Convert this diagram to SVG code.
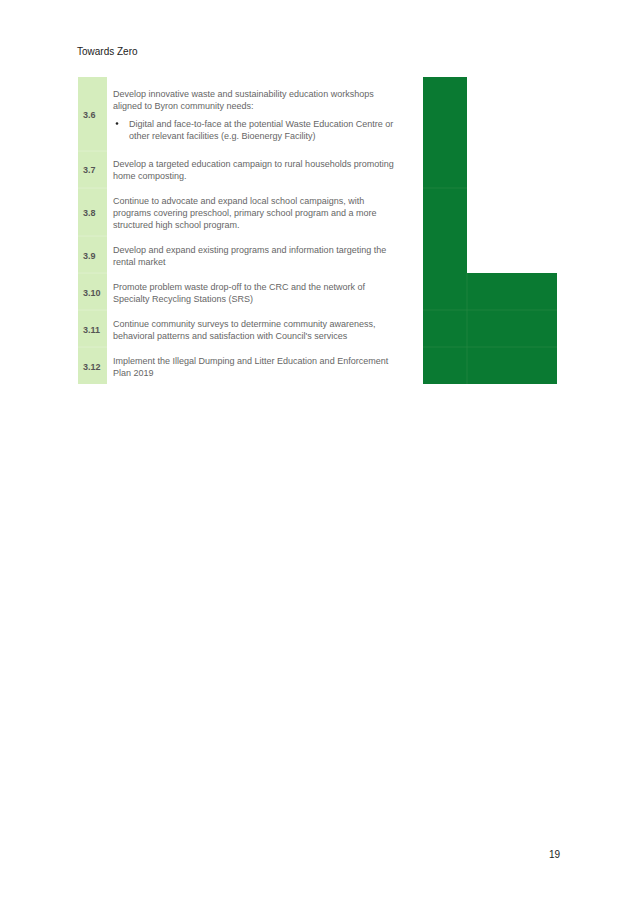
<svg xmlns="http://www.w3.org/2000/svg" width="638" height="900" viewBox="0 0 638 900">
<style>
text{font-family:"Liberation Sans",Arial,sans-serif;font-size:9px;fill:#666}
.n{font-weight:bold;fill:#555}
.h{fill:#222;font-size:10px}
.d{fill:#0a7a32}
.s{stroke:#2a8a45;stroke-width:0.6}
</style>
<rect width="638" height="900" fill="#fff"/>
<text class="h" x="77" y="55">Towards Zero</text>
<text class="h" x="549" y="858">19</text>
<rect x="78" y="77" width="29" height="307" fill="#d5edbd"/>
<g stroke="#e6f4d8" stroke-width="0.6"><line x1="78" y1="151" x2="107" y2="151"/><line x1="78" y1="188" x2="107" y2="188"/><line x1="78" y1="236" x2="107" y2="236"/><line x1="78" y1="273" x2="107" y2="273"/><line x1="78" y1="310" x2="107" y2="310"/><line x1="78" y1="347" x2="107" y2="347"/></g>
<rect class="d" x="423" y="77" width="44" height="307"/>
<rect class="d" x="467" y="273" width="90" height="111"/>
<g class="s"><line x1="423" y1="188" x2="467" y2="188"/><line x1="467" y1="273" x2="467" y2="384"/><line x1="423" y1="310" x2="557" y2="310"/><line x1="423" y1="347" x2="557" y2="347"/></g>
<g id="r36"><text class="n" x="83" y="118">3.6</text><text x="113" y="97">Develop innovative waste and sustainability education workshops</text><text x="113" y="109">aligned to Byron community needs:</text><circle cx="117" cy="123.5" r="1.3" fill="#222"/><text x="129" y="127">Digital and face-to-face at the potential Waste Education Centre or</text><text x="129" y="139">other relevant facilities (e.g. Bioenergy Facility)</text></g>
<g id="r37"><text class="n" x="83" y="173">3.7</text><text x="113" y="167">Develop a targeted education campaign to rural households promoting</text><text x="113" y="179">home composting.</text></g>
<g id="r38"><text class="n" x="83" y="216">3.8</text><text x="113" y="204">Continue to advocate and expand local school campaigns, with</text><text x="113" y="216">programs covering preschool, primary school program and a more</text><text x="113" y="228">structured high school program.</text></g>
<g id="r39"><text class="n" x="83" y="259">3.9</text><text x="113" y="253">Develop and expand existing programs and information targeting the</text><text x="113" y="265">rental market</text></g>
<g id="r310"><text class="n" x="83" y="296">3.10</text><text x="113" y="290">Promote problem waste drop-off to the CRC and the network of</text><text x="113" y="302">Specialty Recycling Stations (SRS)</text></g>
<g id="r311"><text class="n" x="83" y="333">3.11</text><text x="113" y="327">Continue community surveys to determine community awareness,</text><text x="113" y="339">behavioral patterns and satisfaction with Council's services</text></g>
<g id="r312"><text class="n" x="83" y="370">3.12</text><text x="113" y="364">Implement the Illegal Dumping and Litter Education and Enforcement</text><text x="113" y="376">Plan 2019</text></g>
</svg>
